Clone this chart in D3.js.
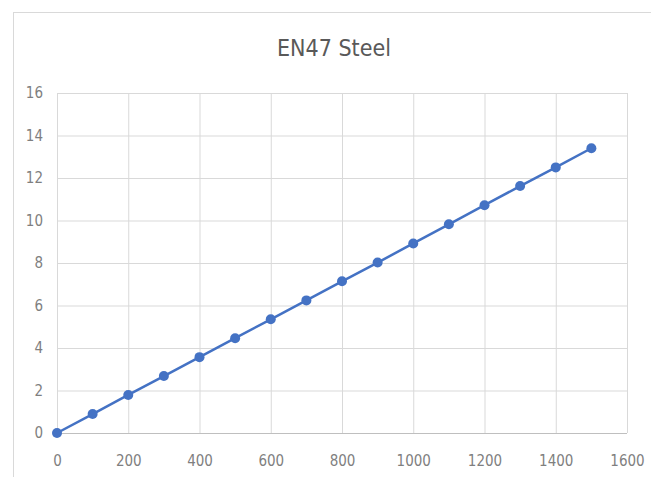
<!DOCTYPE html>
<html><head><meta charset="utf-8">
<script src="https://cdn.jsdelivr.net/npm/d3@7"></script>
<style>
body{margin:0;background:#fff;}
text{font-family:"DejaVu Sans Condensed","Liberation Sans Narrow","Open Sans",sans-serif;font-stretch:condensed;}
</style></head>
<body><svg id="c" width="651" height="477"></svg>
<script>
const title = "EN47 Steel";
const xValues = [0,100,200,300,400,500,600,700,800,900,1000,1100,1200,1300,1400,1500];
const yValues = [0,0.89,1.79,2.68,3.57,4.46,5.35,6.24,7.14,8.02,8.92,9.82,10.72,11.62,12.5,13.4];
const xTicks = [0,200,400,600,800,1000,1200,1400,1600];
const yTicks = [0,2,4,6,8,10,12,14,16];

const svg = d3.select("#c");
svg.append("rect").attr("x",13.5).attr("y",12.5).attr("width",700).attr("height",500)
  .attr("fill","#fff").attr("stroke","#d9d9d9");

const x = d3.scaleLinear().domain([0,1600]).range([57,627]);
const y = d3.scaleLinear().domain([0,16]).range([433,93]);

svg.append("g").attr("transform","translate(0,433)")
  .call(d3.axisBottom(x).tickValues(xTicks).tickFormat(d3.format("d")).tickSize(-(433-93)).tickPadding(22))
  .call(g=>{g.select(".domain").remove();
    g.selectAll(".tick line").attr("stroke","#d9d9d9");
    g.selectAll(".tick text").attr("fill","#7f7f7f").attr("font-size",15);});
svg.append("g").attr("transform","translate(57,0)")
  .call(d3.axisLeft(y).tickValues(yTicks).tickSize(-(627-57)).tickPadding(14))
  .call(g=>{g.select(".domain").remove();
    g.selectAll(".tick line").attr("stroke","#d9d9d9");
    g.selectAll(".tick text").attr("fill","#7f7f7f").attr("font-size",15);});
svg.append("line").attr("x1",57).attr("x2",627).attr("y1",433.5).attr("y2",433.5).attr("stroke","#bfbfbf");

const pts = xValues.map((v,i)=>[v,yValues[i]]);
svg.append("path").datum(pts).attr("fill","none").attr("stroke","#4472c4").attr("stroke-width",2.5)
  .attr("d",d3.line().x(d=>x(d[0])).y(d=>y(d[1])));
svg.selectAll("circle.p").data(pts).enter().append("circle").attr("class","p")
  .attr("cx",d=>x(d[0])).attr("cy",d=>y(d[1])).attr("r",5).attr("fill","#4472c4");

svg.append("text").attr("x",334).attr("y",56).attr("text-anchor","middle")
  .attr("font-size",23).attr("fill","#595959").text(title);
</script></body></html>
